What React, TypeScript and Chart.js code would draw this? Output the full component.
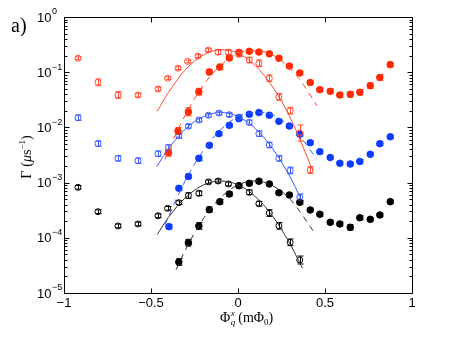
import { useEffect, useRef } from "react";
import { Chart, registerables } from "chart.js";
Chart.register(...registerables);

// ---- data ----
const redOpenX = [-0.92, -0.805, -0.69, -0.575, -0.46, -0.405, -0.345, -0.29, -0.23, -0.17, -0.115, -0.055, 0.005, 0.065, 0.12, 0.18, 0.235, 0.3, 0.355, 0.415];
const redOpenY = [0.179, 0.0656, 0.0386, 0.0386, 0.0497, 0.0776, 0.118, 0.157, 0.196, 0.252, 0.23, 0.23, 0.211, 0.166, 0.145, 0.0776, 0.0356, 0.0201, 0.00792, 0.00169];
const redOpenErr = [0.06, 0.15, 0.15, 0.08, 0.08, 0.06, 0.06, 0.06, 0.06, 0.06, 0.1, 0.1, 0.1, 0.12, 0.15, 0.15, 0.15, 0.15, 0.4, 0.15];

const redFillX = [-0.4, -0.345, -0.285, -0.225, -0.165, -0.105, -0.05, 0.005, 0.065, 0.12, 0.18, 0.235, 0.295, 0.355, 0.415, 0.47, 0.53, 0.585, 0.645, 0.7, 0.76, 0.815, 0.875];
const redFillY = [0.00348, 0.00861, 0.0192, 0.0444, 0.101, 0.124, 0.181, 0.228, 0.239, 0.232, 0.215, 0.179, 0.129, 0.0968, 0.065, 0.0482, 0.0451, 0.0386, 0.0398, 0.0433, 0.0569, 0.0802, 0.137];
const redFillErr = [0.15, 0.15, 0.18, 0.15, 0.12, 0.12, 0.1, 0.1, 0.08, 0.08, 0.08, 0.08, 0.08, 0.08, 0.08, 0.08, 0.1, 0.1, 0.12, 0.12, 0.12, 0.12, 0.1];

const blueOpenX = [-0.92, -0.805, -0.69, -0.575, -0.46, -0.4, -0.34, -0.285, -0.225, -0.17, -0.11, -0.05, 0.005, 0.065, 0.12, 0.18, 0.235, 0.3, 0.355];
const blueOpenY = [0.015, 0.00507, 0.00275, 0.00249, 0.00333, 0.00432, 0.00705, 0.0105, 0.0136, 0.0166, 0.0182, 0.017, 0.0154, 0.0123, 0.00769, 0.0048, 0.00275, 0.00166, 0.000542];
const blueOpenErr = [0.12, 0.12, 0.12, 0.12, 0.12, 0.12, 0.1, 0.08, 0.08, 0.08, 0.08, 0.08, 0.08, 0.1, 0.12, 0.12, 0.12, 0.15, 0.15];

const blueFillX = [-0.397, -0.34, -0.285, -0.225, -0.165, -0.11, -0.05, 0.005, 0.065, 0.12, 0.18, 0.235, 0.295, 0.355, 0.415, 0.47, 0.53, 0.585, 0.645, 0.7, 0.76, 0.815, 0.875];
const blueFillY = [0.000159, 0.000789, 0.00129, 0.00275, 0.00474, 0.00769, 0.0109, 0.0144, 0.0173, 0.0186, 0.0166, 0.0129, 0.0106, 0.00753, 0.00528, 0.00363, 0.00285, 0.00224, 0.00217, 0.00241, 0.00326, 0.00507, 0.00676];
const blueFillErr = [0.1, 0.1, 0.1, 0.1, 0.08, 0.08, 0.08, 0.08, 0.08, 0.08, 0.08, 0.08, 0.08, 0.08, 0.08, 0.08, 0.08, 0.08, 0.08, 0.08, 0.08, 0.08, 0.08];

const blackOpenX = [-0.92, -0.805, -0.69, -0.575, -0.46, -0.405, -0.34, -0.285, -0.225, -0.17, -0.115, -0.055, 0.005, 0.065, 0.12, 0.18, 0.235, 0.3, 0.355];
const blackOpenY = [0.000822, 0.000297, 0.000164, 0.000178, 0.000251, 0.000342, 0.000433, 0.000583, 0.00064, 0.00103, 0.00107, 0.000944, 0.000879, 0.000667, 0.000415, 0.000281, 0.000165, 0.0000828, 0.0000396];
const blackOpenErr = [0.08, 0.08, 0.08, 0.08, 0.08, 0.08, 0.08, 0.12, 0.1, 0.08, 0.08, 0.08, 0.08, 0.1, 0.1, 0.15, 0.15, 0.15, 0.18];

const blackFillX = [-0.34, -0.285, -0.225, -0.165, -0.105, -0.05, 0.005, 0.065, 0.12, 0.18, 0.235, 0.295, 0.355, 0.415, 0.47, 0.53, 0.585, 0.645, 0.7, 0.76, 0.815, 0.875];
const blackFillY = [0.0000365, 0.0000815, 0.000164, 0.000323, 0.000451, 0.000621, 0.000879, 0.000971, 0.00106, 0.000944, 0.000656, 0.000596, 0.00044, 0.000319, 0.000267, 0.000191, 0.000178, 0.000155, 0.000231, 0.000216, 0.000259, 0.000451];
const blackFillErr = [0.15, 0.15, 0.15, 0.12, 0.1, 0.1, 0.1, 0.08, 0.08, 0.08, 0.08, 0.08, 0.08, 0.08, 0.08, 0.08, 0.08, 0.12, 0.08, 0.08, 0.08, 0.08];

// fitted curves
const redSolidX = [-0.465, -0.4, -0.3, -0.2, -0.1, 0, 0.1, 0.2, 0.3, 0.43];
const redSolidY = [0.0195, 0.0428, 0.113, 0.205, 0.2565, 0.221, 0.131, 0.0536, 0.01507, 0.00166];
const redDashX = [-0.42, -0.35, -0.25, -0.15, -0.05, 0.05, 0.15, 0.25, 0.35, 0.455];
const redDashY = [0.00263, 0.00849, 0.0332, 0.0916, 0.178, 0.244, 0.236, 0.16, 0.0769, 0.0244];
const blueSolidX = [-0.467, -0.4, -0.3, -0.2, -0.1, 0, 0.1, 0.2, 0.3, 0.362];
const blueSolidY = [0.00195, 0.0041, 0.0095, 0.01574, 0.0186, 0.01574, 0.0095, 0.0041, 0.00126, 0.000505];
const blueDashX = [-0.42, -0.35, -0.25, -0.15, -0.05, 0.05, 0.15, 0.25, 0.35, 0.452];
const blueDashY = [0.00017, 0.000543, 0.00216, 0.00612, 0.0124, 0.01795, 0.01854, 0.0137, 0.00724, 0.00267];
const blackSolidX = [-0.464, -0.4, -0.3, -0.2, -0.1, 0, 0.1, 0.2, 0.3, 0.37];
const blackSolidY = [0.000115, 0.000234, 0.000543, 0.000902, 0.00107, 0.000912, 0.000557, 0.000244, 0.0000764, 0.0000282];
const blackDashX = [-0.356, -0.3, -0.2, -0.1, 0, 0.1, 0.2, 0.3, 0.438];
const blackDashY = [0.0000263, 0.0000625, 0.00022, 0.000536, 0.00091, 0.00107, 0.000877, 0.000499, 0.000126];

const xTicks = [-1, -0.5, 0, 0.5, 1];
const xTickLabels = ["\u22121", "\u22120.5", "0", "0.5", "1"];
const yDecades = [0, -1, -2, -3, -4, -5];

const RED = "#ff2a00";
const RED_L = "#ff4a30";
const BLUE = "#0a3cff";
const BLUE_L = "#3a5cff";
const BLACK = "#000000";

const pts = (xs: number[], ys: number[]) => xs.map((x, i) => ({ x, y: ys[i] }));

function markerSet(xs: number[], ys: number[], err: number[], color: string, filled: boolean) {
  return {
    type: "scatter" as const,
    data: pts(xs, ys),
    errFrac: err,
    errColor: color,
    showLine: false,
    pointStyle: "circle",
    pointRadius: filled ? 3.3 : 3.0,
    pointBorderWidth: 1,
    pointBorderColor: color,
    pointBackgroundColor: filled ? color : "rgba(0,0,0,0)",
    borderColor: color,
    backgroundColor: filled ? color : "rgba(0,0,0,0)",
  };
}

function curveSet(xs: number[], ys: number[], color: string, dashed: boolean) {
  return {
    type: "line" as const,
    data: pts(xs, ys),
    showLine: true,
    borderColor: color,
    borderWidth: 1,
    borderDash: dashed ? [6, 5] : [],
    pointRadius: 0,
    cubicInterpolationMode: "monotone" as const,
    fill: false,
  };
}

const errPlugin = {
  id: "errbars",
  beforeDatasetsDraw(chart: any) {
    const ctx = chart.ctx;
    const ys = chart.scales.y;
    ctx.save();
    chart.data.datasets.forEach((ds: any, i: number) => {
      if (!ds.errFrac) return;
      const meta = chart.getDatasetMeta(i);
      ctx.strokeStyle = ds.errColor;
      ctx.lineWidth = 1;
      meta.data.forEach((el: any, j: number) => {
        const v = ds.data[j].y;
        const f = ds.errFrac[j];
        const x = Math.round(el.x) + 0.5;
        const y1 = ys.getPixelForValue(v * (1 + f));
        const y2 = ys.getPixelForValue(v / (1 + f));
        ctx.beginPath();
        ctx.moveTo(x, y1);
        ctx.lineTo(x, y2);
        ctx.moveTo(x - 3, y1);
        ctx.lineTo(x + 3, y1);
        ctx.moveTo(x - 3, y2);
        ctx.lineTo(x + 3, y2);
        ctx.stroke();
      });
    });
    ctx.restore();
  },
};

function drawParts(ctx: CanvasRenderingContext2D, parts: any[], x0: number, y0: number, align: "left" | "center") {
  let total = 0;
  for (const p of parts) {
    ctx.font = p.font;
    total += ctx.measureText(p.t).width + (p.gap || 0);
  }
  let x = align === "center" ? x0 - total / 2 : x0;
  ctx.textAlign = "left";
  ctx.textBaseline = "alphabetic";
  for (const p of parts) {
    ctx.font = p.font;
    ctx.fillText(p.t, x, y0 + (p.dy || 0));
    x += ctx.measureText(p.t).width + (p.gap || 0);
  }
}

const framePlugin = {
  id: "frame",
  afterDraw(chart: any) {
    const ctx: CanvasRenderingContext2D = chart.ctx;
    const a = chart.chartArea;
    const xs = chart.scales.x;
    const ys = chart.scales.y;
    const L = Math.round(a.left) + 0.5;
    const R = Math.round(a.right) + 0.5;
    const T = Math.round(a.top) + 0.5;
    const B = Math.round(a.bottom) + 0.5;
    ctx.save();
    ctx.strokeStyle = "#000";
    ctx.lineWidth = 1;
    ctx.strokeRect(L, T, R - L, B - T);
    ctx.beginPath();
    xTicks.forEach((v) => {
      const x = Math.round(xs.getPixelForValue(v)) + 0.5;
      ctx.moveTo(x, B);
      ctx.lineTo(x, B - 5);
      ctx.moveTo(x, T);
      ctx.lineTo(x, T + 5);
    });
    for (let e = -5; e <= 0; e++) {
      const y = Math.round(ys.getPixelForValue(Math.pow(10, e))) + 0.5;
      ctx.moveTo(L, y);
      ctx.lineTo(L + 5, y);
      ctx.moveTo(R, y);
      ctx.lineTo(R - 5, y);
      if (e < 0) {
        for (let m = 2; m <= 9; m++) {
          const ym = Math.round(ys.getPixelForValue(m * Math.pow(10, e))) + 0.5;
          ctx.moveTo(L, ym);
          ctx.lineTo(L + 3, ym);
          ctx.moveTo(R, ym);
          ctx.lineTo(R - 3, ym);
        }
      }
    }
    ctx.stroke();

    ctx.fillStyle = "#000";
    // x tick labels
    ctx.font = "13px 'Liberation Sans', Arial, sans-serif";
    ctx.textAlign = "center";
    ctx.textBaseline = "middle";
    xTicks.forEach((v, i) => {
      ctx.fillText(xTickLabels[i], xs.getPixelForValue(v), a.bottom + 10);
    });
    // y tick labels 10^e
    yDecades.forEach((e) => {
      const y = ys.getPixelForValue(Math.pow(10, e));
      ctx.textAlign = "left";
      ctx.textBaseline = "middle";
      ctx.font = "13px 'Liberation Sans', Arial, sans-serif";
      ctx.fillText("10", 37, y + 1);
      const w = ctx.measureText("10").width;
      ctx.font = "9px 'Liberation Sans', Arial, sans-serif";
      ctx.fillText(e === 0 ? "0" : "\u2212" + String(-e), 37 + w + 0.5, y - 5);
    });

    // x axis title: Φ_q^x (mΦ0)
    const serif = "'Liberation Serif', 'Times New Roman', serif";
    const bx = 220;
    const by = 322;
    ctx.textAlign = "left";
    ctx.textBaseline = "alphabetic";
    ctx.font = `14px ${serif}`;
    ctx.fillText("\u03a6", bx, by);
    const wPhi = ctx.measureText("\u03a6").width;
    ctx.font = `italic 9px ${serif}`;
    ctx.fillText("x", bx + wPhi + 0.5, by - 6);
    ctx.fillText("q", bx + wPhi + 0.5, by + 3);
    drawParts(
      ctx,
      [
        { t: "(m\u03a6", font: `14px ${serif}` },
        { t: "0", font: `9px ${serif}`, dy: 3 },
        { t: ")", font: `14px ${serif}` },
      ],
      bx + wPhi + 8,
      by,
      "left"
    );

    // y axis title: Γ (μs^-1)
    ctx.save();
    ctx.translate(31, 157);
    ctx.rotate(-Math.PI / 2);
    drawParts(
      ctx,
      [
        { t: "\u0393", font: `14px ${serif}`, gap: 4 },
        { t: "(", font: `14px ${serif}` },
        { t: "\u03bc", font: `italic 14px ${serif}` },
        { t: "s", font: `14px ${serif}` },
        { t: "\u22121", font: `9px ${serif}`, dy: -6 },
        { t: ")", font: `14px ${serif}` },
      ],
      0,
      0,
      "center"
    );
    ctx.restore();

    // panel label
    ctx.font = `20px ${serif}`;
    ctx.textAlign = "left";
    ctx.fillText("a)", 11, 32);
    ctx.restore();
  },
};

export default function App() {
  const ref = useRef<HTMLCanvasElement>(null);
  useEffect(() => {
    document.body.style.margin = "0";
    if (!ref.current) return;
    const chart = new Chart(ref.current, {
      type: "scatter",
      data: {
        datasets: [
          curveSet(redSolidX, redSolidY, RED_L, false),
          curveSet(redDashX, redDashY, RED_L, true),
          curveSet(blueSolidX, blueSolidY, BLUE_L, false),
          curveSet(blueDashX, blueDashY, BLUE_L, true),
          curveSet(blackSolidX, blackSolidY, "#333", false),
          curveSet(blackDashX, blackDashY, "#333", true),
          markerSet(redOpenX, redOpenY, redOpenErr, RED_L, false),
          markerSet(redFillX, redFillY, redFillErr, RED, true),
          markerSet(blueOpenX, blueOpenY, blueOpenErr, BLUE_L, false),
          markerSet(blueFillX, blueFillY, blueFillErr, BLUE, true),
          markerSet(blackOpenX, blackOpenY, blackOpenErr, BLACK, false),
          markerSet(blackFillX, blackFillY, blackFillErr, BLACK, true),
        ] as any,
      },
      options: {
        animation: false,
        responsive: false,
        devicePixelRatio: 1,
        layout: { padding: { left: 64, right: 38, top: 17, bottom: 45 } },
        plugins: { legend: { display: false }, tooltip: { enabled: false } },
        scales: {
          x: { type: "linear", min: -1, max: 1, display: false },
          y: { type: "logarithmic", min: 1e-5, max: 1, display: false },
        },
      } as any,
      plugins: [errPlugin, framePlugin],
    });
    return () => chart.destroy();
  }, []);
  return <canvas ref={ref} width={450} height={338} style={{ display: "block" }} />;
}
